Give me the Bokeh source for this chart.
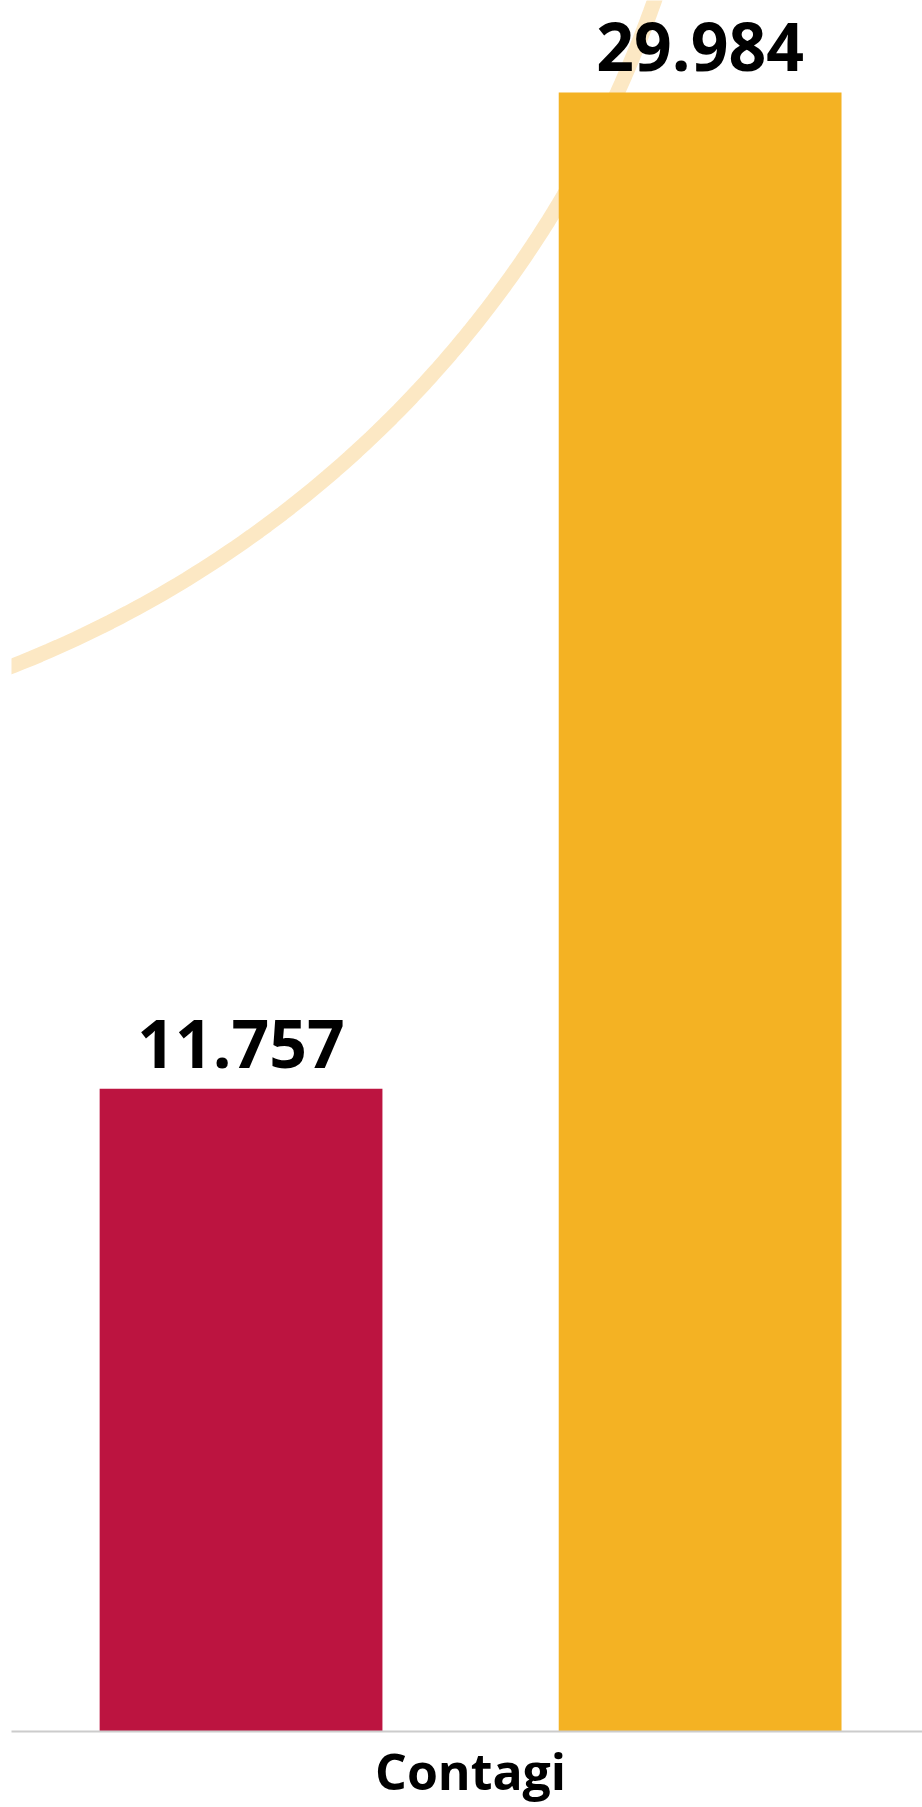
import math
from bokeh.plotting import figure
from bokeh.models import Range1d, FixedTicker
from bokeh.core.properties import value
from bokeh.embed import file_html
from bokeh.resources import INLINE

# ---- data ----
categories = ["Contagi"]
series_values = [11757, 29984]
series_colors = ["#BC1440", "#F4B223"]
value_labels = [f"{v:,}".replace(",", ".") for v in series_values]

# ---- figure ----
W, H = 922, 1807
BL, BB = 11, 75
p = figure(width=W, height=H, output_backend="svg", toolbar_location=None,
           x_range=Range1d(-1.0, 0.9844), y_range=Range1d(0, 31666),
           min_border_left=BL, min_border_right=0, min_border_top=0, min_border_bottom=BB)
p.outline_line_color = None
p.background_fill_color = "white"
p.border_fill_color = "white"
p.xgrid.visible = False
p.ygrid.visible = False
p.yaxis.visible = False

# decorative background arc (sampled circle in screen px, mapped into data space)
frame_left_px, frame_top_px = float(BL), 0.0
frame_w, frame_h = W - BL, H - BB
def px_to_data(px, py):
    xr, yr = p.x_range, p.y_range
    dx = xr.start + (px - frame_left_px) / frame_w * (xr.end - xr.start)
    dy = yr.end - (py - frame_top_px) / frame_h * (yr.end - yr.start)
    return dx, dy
cx, cy, r = -395.0, -369.0, 1112.0
arc_x, arc_y = [], []
for i in range(0, 141):
    a = math.radians(-80 + i * 0.5)
    dx, dy = px_to_data(cx + r * math.cos(a), cy - r * math.sin(a))
    arc_x.append(dx)
    arc_y.append(dy)
p.line(arc_x, arc_y, line_color="#FCE8C4", line_width=15)

# bars (grouped around the single category at x = 0)
offsets = [-0.5, 0.5]
xs = [0 + o for o in offsets]
p.vbar(x=xs, top=series_values, width=0.616, color=series_colors, line_color=None)

p.text(x=xs, y=series_values, text=value_labels, text_align="center",
       text_baseline="bottom", y_offset=-21,
       text_font=value("Open Sans"), text_font_style="bold",
       text_font_size="66px", text_color="#000000")

# x axis
p.xaxis.ticker = FixedTicker(ticks=[0])
p.xaxis.major_label_overrides = {0: categories[0]}
p.xaxis.major_tick_line_color = None
p.xaxis.major_tick_out = 0
p.xaxis.major_tick_in = 0
p.xaxis.minor_tick_line_color = None
p.xaxis.axis_line_color = "#CCCCCC"
p.xaxis.axis_line_width = 2
p.xaxis.major_label_standoff = 5
p.xaxis.major_label_text_font = "Open Sans"
p.xaxis.major_label_text_font_style = "bold"
p.xaxis.major_label_text_font_size = "50px"
p.xaxis.major_label_text_color = "#000000"

open("out.html", "w").write(file_html(p, INLINE))
